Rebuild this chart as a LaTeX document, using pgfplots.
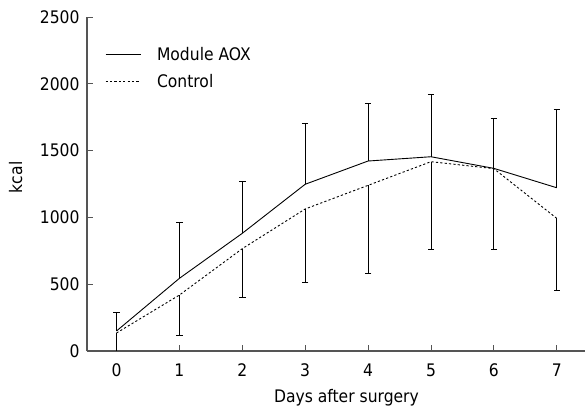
\documentclass[border=0pt]{standalone}
\usepackage{pgfplots}
\pgfplotsset{compat=1.18}
\usepackage{fontspec}
\setmainfont{DejaVu Sans}[FakeStretch=0.9]
\definecolor{axgray}{RGB}{85,85,85}
\begin{document}
\begin{tikzpicture}[font=\fontsize{17.3bp}{21bp}\selectfont]
\useasboundingbox (0,0) rectangle (585bp,407bp);
\begin{axis}[
  at={(87bp,56bp)}, anchor=south west,
  scale only axis, width=498bp, height=334bp,
  xmin=-0.47, xmax=7.45, ymin=0, ymax=2500,
  axis x line*=bottom, axis y line*=left,
  x axis line style={-, draw=axgray, line width=1.1bp},
  y axis line style={-, draw=axgray, line width=1.1bp},
  tick align=inside, major tick length=6bp,
  tick style={draw=axgray, line width=0.9bp},
  xtick={0,...,7}, ytick={0,500,...,2500},
  /pgf/number format/assume math mode=true,
  /pgf/number format/set thousands separator={},
  xticklabel style={yshift=-9.5bp},
  yticklabel style={xshift=-4bp},
  xlabel={Days after surgery},
  ylabel={kcal},
  xlabel style={at={(axis description cs:0.521,-0.141)}, anchor=center},
  ylabel style={at={(axis description cs:-0.143,0.52)}, anchor=center, rotate=0},
  legend style={draw=none, fill=none, at={(axis description cs:0.03,0.92)}, anchor=north west,
    row sep=11bp, column sep=15bp, font=\fontsize{17.3bp}{21bp}\selectfont,
    nodes={inner sep=1bp}},
  legend cell align=left,
  legend image code/.code={\draw[#1] (0bp,0bp) -- (35bp,0bp);},
]
\addplot[black, line width=0.9bp, mark=none,
  error bars/.cd, y dir=plus, y explicit,
  error bar style={line width=0.9bp, black},
  error mark options={rotate=90, mark size=3.2bp, line width=0.9bp, black}]
  table[x=x, y=y, y error=e] {
x y e
0 150 140
1 544 416
2 881 391
3 1248 453
4 1422 432
5 1454 470
6 1367 372
7 1222 584
};
\addlegendentry{Module AOX}
\addplot[black, line width=0.9bp, dash pattern=on 2.2bp off 2.2bp, mark=none,
  error bars/.cd, y dir=minus, y explicit,
  error bar style={line width=0.9bp, black, solid},
  error mark options={rotate=90, mark size=3.2bp, line width=0.9bp, black, solid}]
  table[x=x, y=y, y error=e] {
x y e
0 135 135
1 419 304
2 766 367
3 1063 552
4 1240 659
5 1417 654
6 1365 602
7 993 542
};
\addlegendentry{Control}
\end{axis}
\end{tikzpicture}
\end{document}
